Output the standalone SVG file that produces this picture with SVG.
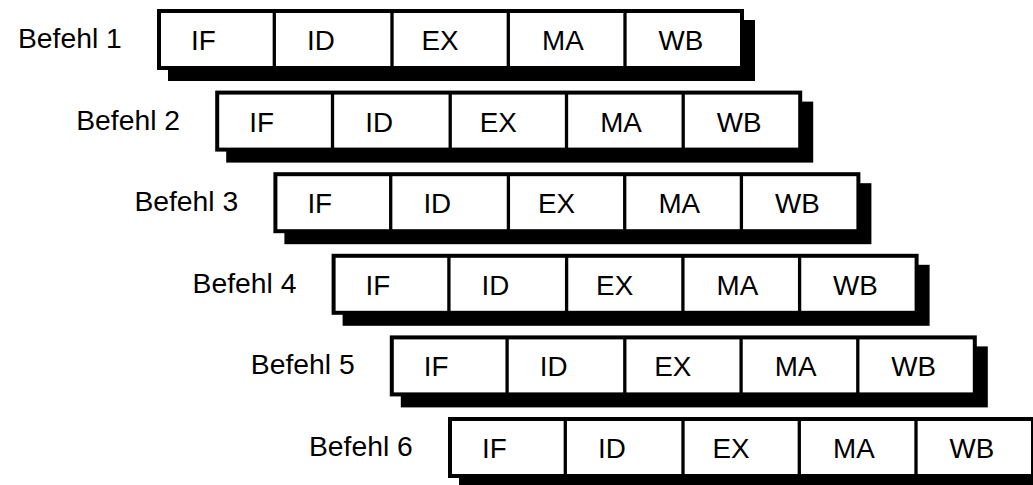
<svg xmlns="http://www.w3.org/2000/svg" width="1033" height="485" viewBox="0 0 1033 485">
<style>
.shadow{fill:#000}
.box{fill:#fff;stroke:#000;stroke-width:4}
.div{stroke:#000;stroke-width:3.3}
text{font-family:"Liberation Sans",Arial,sans-serif;fill:#000}
.lbl{font-size:28.3px}
.cell{font-size:27.8px}
</style>
<defs>
<g id="stage">
<rect class="shadow" x="11" y="11" width="587" height="61"/>
<rect class="box" x="2" y="2" width="583" height="57"/>
<line class="div" x1="117.3" y1="2" x2="117.3" y2="59"/>
<line class="div" x1="235" y1="2" x2="235" y2="59"/>
<line class="div" x1="351.3" y1="2" x2="351.3" y2="59"/>
<line class="div" x1="468" y1="2" x2="468" y2="59"/>
<text class="cell" x="34" y="41">IF</text>
<text class="cell" x="150" y="41">ID</text>
<text class="cell" x="264.5" y="41">EX</text>
<text class="cell" x="385" y="41">MA</text>
<text class="cell" x="501.5" y="41">WB</text>
</g>
</defs>
<g id="connectors"></g>
<g id="befehl1" transform="translate(157,9)">
<text class="lbl" x="-139" y="39">Befehl 1</text>
<use href="#stage"/>
</g>
<g id="befehl2" transform="translate(215.2,90.6)">
<text class="lbl" x="-139" y="39">Befehl 2</text>
<use href="#stage"/>
</g>
<g id="befehl3" transform="translate(273.4,172.2)">
<text class="lbl" x="-139" y="39">Befehl 3</text>
<use href="#stage"/>
</g>
<g id="befehl4" transform="translate(331.6,253.8)">
<text class="lbl" x="-139" y="39">Befehl 4</text>
<use href="#stage"/>
</g>
<g id="befehl5" transform="translate(389.8,335.4)">
<text class="lbl" x="-139" y="39">Befehl 5</text>
<use href="#stage"/>
</g>
<g id="befehl6" transform="translate(448,417)">
<text class="lbl" x="-139" y="39">Befehl 6</text>
<use href="#stage"/>
</g>
</svg>
